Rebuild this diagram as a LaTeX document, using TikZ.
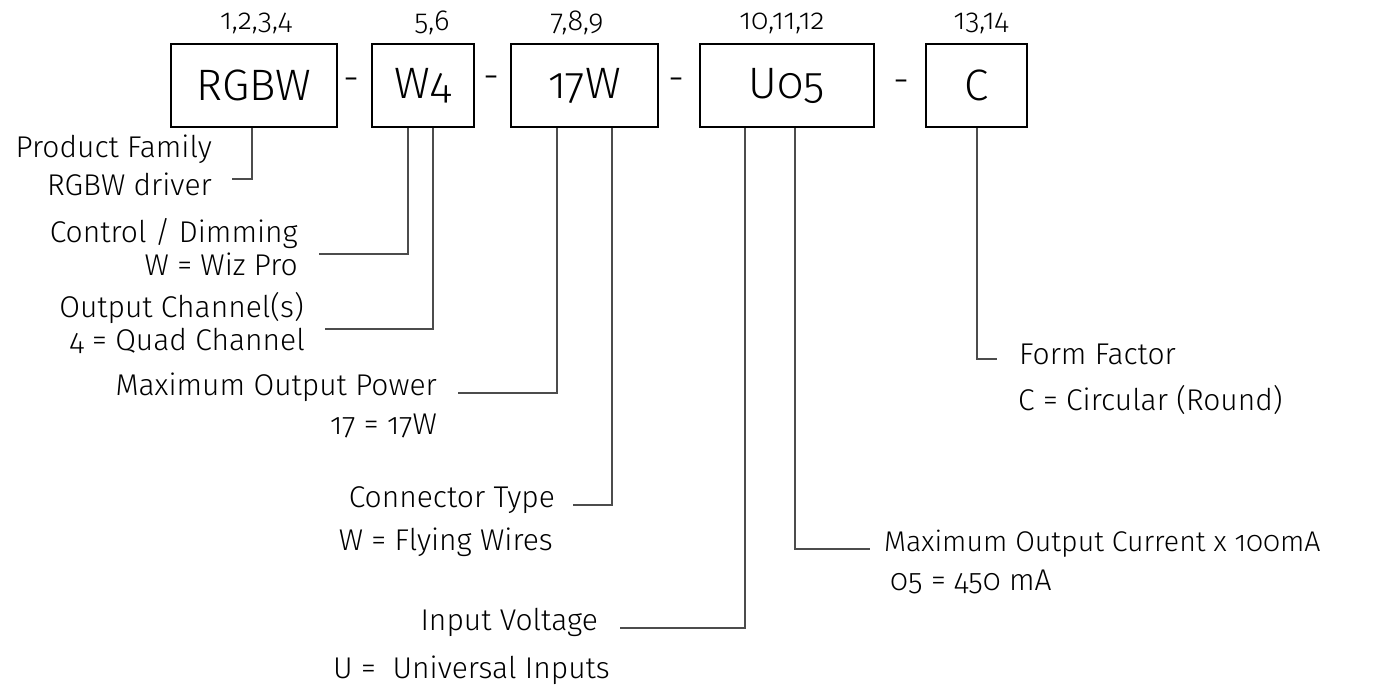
\documentclass[tikz,border=0pt]{standalone}
\usepackage{fontspec}
\setmainfont{Fira Sans Light}[Numbers=OldStyle]
\begin{document}
\begin{tikzpicture}[x=1pt, y=-1pt,
  codebox/.style={draw=black, line width=2.4pt, minimum height=83pt, inner sep=0pt,
    font=\fontsize{44}{50}\selectfont},
  digits/.style={font=\fontsize{29}{33}\selectfont, inner sep=0pt},
  joiner/.style={font=\fontsize{40}{46}\selectfont, inner sep=0pt},
  descr/.style={font=\fontsize{30}{35}\selectfont, inner sep=0pt,
    text height=0.72em, text depth=0.2em},
  link/.style={draw=black!70, line width=1.3pt}]

\useasboundingbox (0,0) rectangle (1374,694);

%% ---------- the code boxes ----------
\node[codebox, minimum width=166pt] (rgbw) at (254,85.5)   {RGBW};
\node[codebox, minimum width=102pt] (wfour) at (423,85.5)  {W4};
\node[codebox, minimum width=147pt] (watt) at (584.5,85.5) {17W};
\node[codebox, minimum width=174pt] (uzf) at (787,85.5)    {U05};
\node[codebox, minimum width=101pt] (circ) at (976.5,85.5) {C};

%% separators between the boxes
\node[joiner] (dasha) at (352,85) {-};
\node[joiner] (dashb) at (492,83) {-};
\node[joiner] (dashc) at (677,85) {-};
\node[joiner] (dashd) at (902,87) {-};

%% ---------- digit positions ----------
\node[digits] (posa) at (256,23) {1,2,3,4};
\node[digits] (posb) at (432,23) {5,6};
\node[digits] (posc) at (577,23) {7,8,9};
\node[digits] (posd) at (782,23) {10,11,12};
\node[digits] (pose) at (981,23) {13,14};

%% ---------- descriptions, left side ----------
\node[descr, anchor=east] (fam)    at (212,155) {Product Family};
\node[descr, anchor=east] (famval) at (212,193) {RGBW driver};
\node[descr, anchor=east] (ctl)    at (298,240) {Control / Dimming};
\node[descr, anchor=east] (ctlval) at (298,273) {W = Wiz Pro};
\node[descr, anchor=east] (chn)    at (304,315) {Output Channel(s)};
\node[descr, anchor=east] (chnval) at (305,348) {4 = Quad Channel};
\node[descr, anchor=east] (pwr)    at (437,393) {Maximum Output Power};
\node[descr, anchor=east] (pwrval) at (437,432) {17 = 17W};
\node[descr, anchor=east] (con)    at (555,505) {Connector Type};
\node[descr, anchor=east] (conval) at (553,548) {W = Flying Wires};
\node[descr, anchor=east] (vin)    at (598,628) {Input Voltage};
\node[descr, anchor=east] (vinval) at (610,676) {U = \ Universal Inputs};

%% ---------- descriptions, right side ----------
\node[descr, anchor=west, font=\fontsize{28.5}{33}\selectfont] (cur) at (884,549)
  {Maximum Output Current x 100mA};
\node[descr, anchor=west] (curval)  at (890,588)  {05 = 450 mA};
\node[descr, anchor=west] (form)    at (1019,362) {Form Factor};
\node[descr, anchor=west] (formval) at (1018,408) {C = Circular (Round)};

%% free ends of the leader lines
\coordinate (famend)  at (232,179);
\coordinate (ctlend)  at (319,254);
\coordinate (chnend)  at (325,329);
\coordinate (pwrend)  at (458,393);
\coordinate (conend)  at (573,505);
\coordinate (vinend)  at (620,628);
\coordinate (curend)  at (870,549);
\coordinate (formend) at (997,359);

%% ---------- leader lines ----------
\draw[link] ([xshift=-2pt]rgbw.south)    |- (famend);
\draw[link] ([xshift=-15pt]wfour.south)  |- (ctlend);
\draw[link] ([xshift=10pt]wfour.south)   |- (chnend);
\draw[link] ([xshift=-27.5pt]watt.south) |- (pwrend);
\draw[link] ([xshift=27.5pt]watt.south)  |- (conend);
\draw[link] ([xshift=-42pt]uzf.south)    |- (vinend);
\draw[link] ([xshift=8pt]uzf.south)      |- (curend);
\draw[link] ([xshift=0.5pt]circ.south)   |- (formend);

\end{tikzpicture}
\end{document}
